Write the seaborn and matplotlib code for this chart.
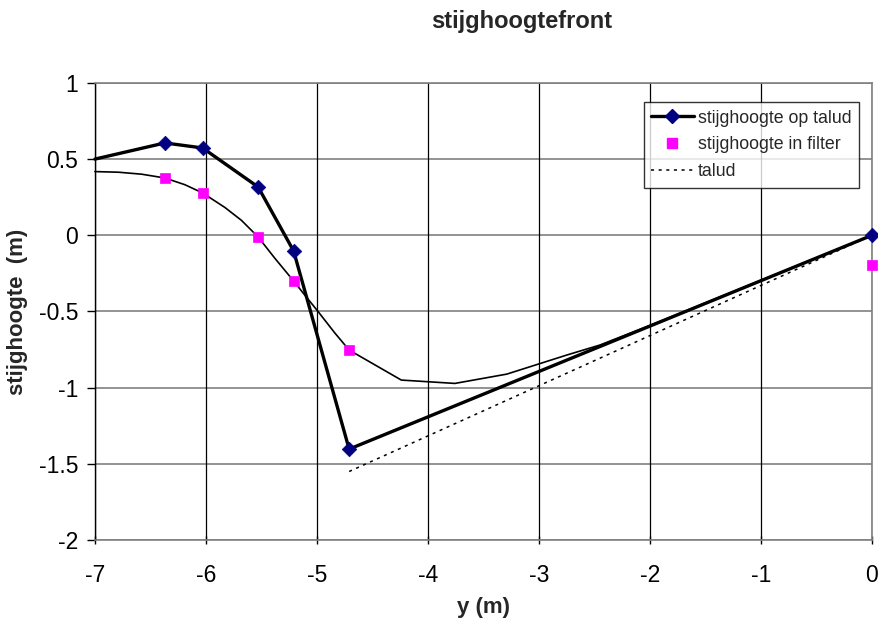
import matplotlib
matplotlib.use("Agg")
import matplotlib.pyplot as plt
from matplotlib.lines import Line2D
import seaborn as sns
import pandas as pd

# --- data ---
talud_op_x = [-7.0, -6.37, -6.03, -5.53, -5.21, -4.71, 0.0]
talud_op_y = [0.50, 0.606, 0.573, 0.317, -0.103, -1.403, 0.0]

filter_x = [-6.37, -6.03, -5.53, -5.21, -4.71, 0.0]
filter_y = [0.376, 0.278, -0.011, -0.300, -0.753, -0.195]

curve_x = [-7.0, -6.79, -6.58, -6.37, -6.19, -6.03, -5.83, -5.68, -5.53, -5.38, -5.21,
           -5.11, -4.99, -4.84, -4.71, -4.24, -3.757, -3.29, -2.75, -2.45, -2.03, 0.0]
curve_y = [0.418, 0.414, 0.401, 0.376, 0.332, 0.278, 0.183, 0.098, -0.011, -0.150, -0.300,
           -0.392, -0.500, -0.640, -0.753, -0.950, -0.972, -0.911, -0.786, -0.72, -0.60, 0.0]

talud_x = [-4.71, 0.0]
talud_y = [-1.55, 0.0]

x_ticks = [-7, -6, -5, -4, -3, -2, -1, 0]
y_ticks = [-2, -1.5, -1, -0.5, 0, 0.5, 1]
y_tick_labels = ["-2", "-1.5", "-1", "-0.5", "0", "0.5", "1"]

sns.set_theme(style="white")
plt.rcParams['font.family'] = ['Liberation Sans', 'DejaVu Sans']

fig = plt.figure(figsize=(8.79, 6.28), dpi=100)
ax = fig.add_axes([0.108, 0.140, 0.884, 0.728])

ax.set_xlim(-7, 0)
ax.set_ylim(-2, 1)

# gridlines
for yv in y_ticks:
    ax.axhline(yv, color="#808080", lw=1.2, zorder=0)
for xv in x_ticks:
    ax.axvline(xv, color="black", lw=0.9, zorder=0)

df_curve = pd.DataFrame({"x": curve_x, "y": curve_y})
sns.lineplot(data=df_curve, x="x", y="y", sort=False, estimator=None, ax=ax,
             color="black", lw=1.2, zorder=2, clip_on=False)

df_talud = pd.DataFrame({"x": talud_x, "y": talud_y})
sns.lineplot(data=df_talud, x="x", y="y", sort=False, estimator=None, ax=ax,
             color="black", lw=1.1, linestyle=(0, (2, 3)), zorder=2)

df_op = pd.DataFrame({"x": talud_op_x, "y": talud_op_y})
sns.lineplot(data=df_op, x="x", y="y", sort=False, estimator=None, ax=ax,
             color="black", lw=2.4, zorder=3, clip_on=False)
sns.scatterplot(data=df_op.iloc[1:], x="x", y="y", ax=ax, marker="D", s=55,
                color="#000080", edgecolor="#000080", linewidth=0.5, zorder=5, clip_on=False)

df_f = pd.DataFrame({"x": filter_x, "y": filter_y})
sns.scatterplot(data=df_f, x="x", y="y", ax=ax, marker="s", s=55,
                color="#FF00FF", edgecolor="#FF00FF", linewidth=0.5, zorder=5, clip_on=False)

ax.set_xticks(x_ticks)
ax.set_xticklabels([str(v) for v in x_ticks])
ax.set_yticks(y_ticks)
ax.set_yticklabels(y_tick_labels)
ax.tick_params(axis="both", labelsize=16.5, colors="black", length=6, width=1)
ax.tick_params(axis="x", direction="inout", pad=14)
ax.tick_params(axis="y", direction="out", pad=6)
ax.tick_params(left=True, bottom=True)

for side in ["top", "right", "bottom"]:
    ax.spines[side].set_color("#808080")
    ax.spines[side].set_linewidth(1.2)
ax.spines["left"].set_color("black")
ax.spines["left"].set_linewidth(1.0)

ax.set_xlabel("y (m)", fontsize=16, fontweight="bold")
ax.set_ylabel("stijghoogte  (m)", fontsize=16, fontweight="bold")
ax.xaxis.set_label_coords(0.5, -0.147)
ax.yaxis.set_label_coords(-0.100, 0.5)
ax.xaxis.label.set_va("center")
ax.yaxis.label.set_va("center")
fig.text(0.593, 0.965, "stijghoogtefront", ha="center", va="center",
         fontsize=17, fontweight="bold")

handles = [
    Line2D([0], [0], color="black", lw=2.4, marker="D", markersize=7,
           markerfacecolor="#000080", markeredgecolor="#000080"),
    Line2D([0], [0], color="none", marker="s", markersize=7,
           markerfacecolor="#FF00FF", markeredgecolor="#FF00FF"),
    Line2D([0], [0], color="black", lw=1.1, linestyle=(0, (2, 3))),
]
labels = ["stijghoogte op talud", "stijghoogte in filter", "talud"]
leg = ax.legend(handles, labels, loc="upper left", bbox_to_anchor=(0.706, 0.958),
                fontsize=12.8, frameon=True, fancybox=False, shadow=False,
                borderpad=0.42, labelspacing=0.55, handlelength=2.4, handletextpad=0.25,
                borderaxespad=0)
leg.get_frame().set_edgecolor("black")
leg.get_frame().set_linewidth(1.0)
leg.get_frame().set_facecolor("white")
leg.set_zorder(10)

fig.savefig("out.png", dpi=100)
